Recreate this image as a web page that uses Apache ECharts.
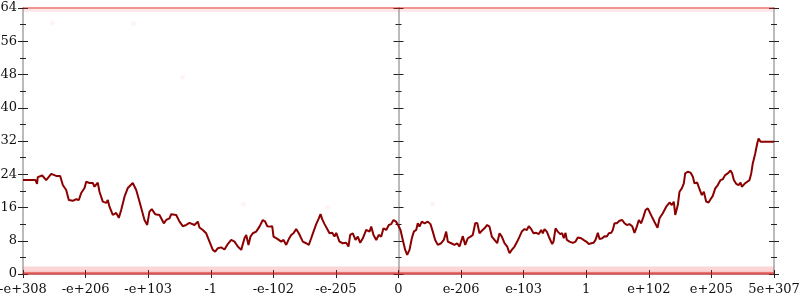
<!DOCTYPE html>
<html>
<head>
<meta charset="utf-8">
<script src="https://cdn.jsdelivr.net/npm/echarts@6/dist/echarts.min.js"></script>
<style>html,body{margin:0;padding:0;background:#fff}#c{width:800px;height:300px}</style>
</head>
<body>
<div id="c"></div>
<script>
const xTickLabels = ['-e+308','-e+206','-e+103','-1','-e-102','-e-205','0','e-206','e-103','1','e+102','e+205','5e+307'];
const yTicks = [0, 8, 16, 24, 32, 40, 48, 56, 64];

const lineX = [0,0.200,0.224,0.236,0.307,0.371,0.451,0.530,0.594,0.636,0.690,0.732,0.796,0.850,0.892,0.930,0.983,1.010,1.063,1.115,1.143,1.195,1.222,1.275,1.329,1.355,1.382,1.435,1.489,1.531,1.569,1.622,1.675,1.754,1.809,1.862,
1.941,1.985,2.021,2.058,2.112,2.181,2.208,2.250,2.288,2.341,2.368,2.448,2.474,2.501,2.553,2.608,2.660,2.688,2.740,2.793,2.820,2.873,2.927,2.980,3.033,3.071,3.113,3.167,3.220,3.272,3.327,3.380,3.432,3.487,3.539,3.567,3.603,3.635,3.672,3.726,3.779,3.832,3.870,3.902,3.939,3.982,
4.003,4.071,4.126,4.163,4.206,4.247,4.286,4.322,4.365,4.407,4.471,4.525,4.567,4.605,4.642,4.685,4.727,4.754,4.781,4.818,4.870,4.898,4.941,4.977,5.005,5.057,5.110,5.164,5.201,5.228,5.270,5.313,5.350,5.388,5.430,5.484,5.537,5.564,5.601,5.644,5.685,5.724,5.760,5.804,5.845,5.883,5.920,5.960,
6.000,6.032,6.069,6.107,6.139,6.176,6.213,6.245,6.283,6.308,6.336,6.372,6.416,6.468,6.511,6.548,6.586,6.628,6.682,6.724,6.762,6.788,6.842,6.895,6.938,6.975,7.028,7.066,7.107,7.151,7.187,7.226,7.258,7.294,7.331,7.374,7.417,7.454,7.491,7.534,7.577,7.614,7.651,7.694,7.737,7.774,7.810,7.854,7.897,7.934,7.970,
8.014,8.050,8.082,8.121,8.157,8.200,8.242,8.280,8.306,8.333,8.370,8.413,8.456,8.477,8.509,8.545,8.584,8.616,8.641,8.669,8.689,8.733,8.785,8.829,8.865,8.919,8.956,8.999,9.041,9.079,9.116,9.148,9.185,9.212,9.255,9.292,9.329,9.361,9.399,9.424,9.452,9.488,9.531,9.575,9.611,9.648,9.691,9.734,9.771,9.808,9.840,9.878,9.915,9.947,9.984,
10.011,10.048,10.091,10.139,10.171,10.223,10.278,10.330,10.367,10.399,10.422,10.463,10.490,10.527,10.559,10.581,10.623,10.666,10.703,10.730,10.773,10.810,10.847,10.879,10.917,10.954,10.986,11.022,11.061,11.102,11.146,11.182,11.220,11.262,11.305,11.332,11.358,11.396,11.433,11.465,11.486,11.529,11.572,11.609,11.636,11.661,11.700,11.732,11.753,11.785,11.848,12.0];

const lineY = [22.6,22.6,21.7,23.3,23.7,22.6,24.1,23.6,23.6,21.4,20.2,17.8,17.6,18.0,17.8,19.5,20.7,22.2,21.9,21.9,21.0,22.0,19.8,17.4,17.1,17.8,16.2,14.2,14.7,13.5,15.4,18.6,20.7,21.9,20.2,17.4,
13.0,11.8,15.0,15.6,14.4,14.2,14.6,12.2,13.0,13.4,14.4,14.2,13.4,12.6,11.5,11.8,12.3,12.6,11.8,12.6,11.2,10.6,9.8,7.8,5.8,5.4,6.2,6.4,5.9,7.2,8.2,7.8,6.6,5.8,8.6,9.4,7.0,9.0,9.8,10.2,11.4,13.0,12.6,11.5,11.4,11.5,
9.0,8.4,7.8,8.2,7.0,8.4,9.4,9.8,10.8,9.8,7.8,7.4,7.0,8.6,10.2,12.0,13.4,14.4,13.2,12.0,10.6,9.8,9.9,9.0,9.9,7.8,7.4,7.5,6.6,9.4,9.8,8.2,9.0,7.5,8.6,10.6,10.2,11.4,9.4,8.2,9.4,9.0,11.0,10.6,11.8,12.0,13.0,12.6,
11.6,10.6,8.2,5.8,4.6,5.8,8.6,10.2,10.6,12.2,11.4,12.6,12.2,12.6,12.0,10.2,8.2,7.0,7.4,8.2,10.2,7.8,7.4,7.0,7.4,6.6,9.1,7.0,8.6,9.0,9.4,12.2,12.3,9.8,10.4,11.0,11.8,11.4,9.0,8.2,7.4,9.8,9.0,7.4,6.6,5.0,5.8,6.6,7.8,9.0,10.2,
10.8,10.6,11.5,10.8,9.8,9.9,9.6,10.6,9.8,10.8,10.2,8.6,7.2,7.8,11.0,10.2,9.6,9.8,8.6,9.9,8.2,7.8,7.5,7.8,8.8,8.6,8.2,7.8,7.2,7.4,7.5,8.2,9.9,8.4,8.6,9.1,9.0,9.8,9.9,10.6,12.2,12.2,12.8,13.0,12.2,11.8,12.0,11.5,9.9,11.4,13.0,12.2,13.8,15.4,15.8,
16.0,13.8,12.5,11.1,13.4,14.6,16.2,17.2,16.6,17.4,14.2,16.6,19.8,20.6,21.8,24.2,24.6,24.4,23.4,21.8,22.0,20.4,19.0,19.8,17.4,17.2,18.0,18.8,20.6,21.4,22.6,22.8,23.8,24.2,24.9,24.2,22.6,21.7,21.4,22.0,21.0,21.7,22.2,22.6,24.2,26.6,29.0,31.4,32.6,31.8,31.8,31.8];

// faint scattered samples
const faintX = [0.471, 1.766, 2.549, 3.523, 4.866, 6.543];
const faintY = [60.4, 60.2, 47.4, 16.8, 16.1, 16.8];

// dense sample bands (x extent, y level)
const bandX = [0, 12];
const bandZeroY = 0.2;
const bandOneY = 1.2;
const bandTopY = 64;
const bandTopInnerY = 63.4;

const lineData = lineX.map((x, i) => [x, lineY[i]]);
const faintData = faintX.map((x, i) => [x, faintY[i]]);
const band = (y) => bandX.map(x => [x, y]);

const font = 'DejaVu Serif';
const tickColor = '#222';
const axisGrey = '#bbbbbb';

function yAx(opts) {
  return Object.assign({
    type: 'value', min: 0, max: 64, interval: 8,
    splitLine: { show: false },
    axisLine: { show: false },
    axisLabel: { show: false },
    axisTick: { show: true, length: 5, lineStyle: { color: tickColor, width: 1 } },
    minorTick: { show: true, splitNumber: 2, length: 3, lineStyle: { color: tickColor, width: 1 } },
    minorSplitLine: { show: false }
  }, opts);
}

const option = {
  animation: false,
  backgroundColor: '#ffffff',
  grid: { left: 23, right: 26, top: 8, bottom: 26, containLabel: false, outerBoundsMode: 'none' },
  xAxis: [
    {
      type: 'value', min: 0, max: 12, interval: 1,
      splitLine: { show: false },
      axisLine: { show: true, lineStyle: { color: axisGrey, width: 2 } },
      axisTick: { show: true, inside: false, length: 4, lineStyle: { color: tickColor, width: 1 } },
      axisLabel: { show: true, margin: 9, fontFamily: font, fontSize: 13, color: '#111',
        formatter: (v) => xTickLabels[Math.round(v)] }
    },
    {
      type: 'value', min: 0, max: 12, interval: 1, position: 'bottom',
      splitLine: { show: false },
      axisLine: { show: false },
      axisTick: { show: true, inside: true, length: 4, lineStyle: { color: tickColor, width: 1 } },
      axisLabel: { show: false }
    }
  ],
  yAxis: [
    yAx({ position: 'left', axisLine: { show: true, lineStyle: { color: axisGrey, width: 2 } },
      axisLabel: { show: true, margin: 6, fontFamily: font, fontSize: 13, color: '#111' } }),
    yAx({ position: 'left', axisTick: { show: true, inside: true, length: 5, lineStyle: { color: tickColor } },
      minorTick: { show: true, splitNumber: 2, length: 3, lineStyle: { color: tickColor } } }),
    yAx({ position: 'right', axisLine: { show: true, lineStyle: { color: axisGrey, width: 2 } } }),
    yAx({ position: 'right', axisTick: { show: true, inside: true, length: 5, lineStyle: { color: tickColor } },
      minorTick: { show: true, splitNumber: 2, length: 3, lineStyle: { color: tickColor } } }),
    yAx({ position: 'left', offset: -375.5, axisLine: { show: true, lineStyle: { color: axisGrey, width: 2 } } }),
    yAx({ position: 'left', offset: -375.5, axisTick: { show: true, inside: true, length: 5, lineStyle: { color: tickColor } },
      minorTick: { show: true, splitNumber: 2, length: 3, lineStyle: { color: tickColor } } })
  ],
  series: [
    { type: 'line', data: band(bandOneY), showSymbol: false, silent: true, z: 3,
      lineStyle: { color: 'rgba(240,70,70,0.22)', width: 5 } },
    { type: 'line', data: band(bandZeroY), showSymbol: false, silent: true, z: 3,
      lineStyle: { color: 'rgba(225,20,20,0.6)', width: 3 } },
    { type: 'line', data: band(bandTopInnerY), showSymbol: false, silent: true, z: 3,
      lineStyle: { color: 'rgba(240,70,70,0.12)', width: 3 } },
    { type: 'line', data: band(bandTopY), showSymbol: false, silent: true, z: 3,
      lineStyle: { color: 'rgba(225,20,20,0.45)', width: 2 } },
    { type: 'scatter', data: faintData, symbolSize: 5, silent: true, z: 3,
      itemStyle: { color: 'rgba(240,80,80,0.08)' } },
    { type: 'line', data: lineData, showSymbol: false, z: 5, silent: true,
      lineStyle: { color: '#8b0000', width: 2 } }
  ]
};

const chart = echarts.init(document.getElementById('c'), null, { renderer: 'canvas' });
chart.setOption(option);
</script>
</body>
</html>
